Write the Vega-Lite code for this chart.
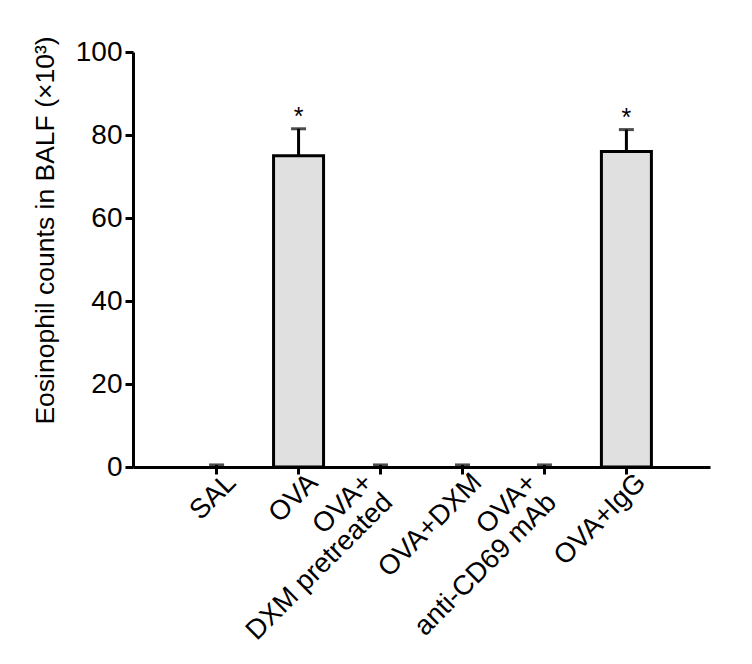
{
  "$schema": "https://vega.github.io/schema/vega-lite/v6.json",
  "autosize": {"type": "none"},
  "padding": {"left": 133, "top": 52, "right": 42, "bottom": 197},
  "width": 577,
  "height": 415,
  "background": "white",
  "config": {
    "view": {"stroke": null},
    "font": "Liberation Sans",
    "axis": {"domainColor": "black", "domainWidth": 3, "tickColor": "black", "tickWidth": 3, "labelColor": "black", "titleColor": "black", "grid": false, "labelFont": "Liberation Sans", "titleFont": "Liberation Sans", "labelLimit": 0}
  },
  "data": {
    "values": [
      {"group": "SAL", "mean": 0, "upper": 0.5, "sig": ""},
      {"group": "OVA", "mean": 75, "upper": 81.5, "sig": "*"},
      {"group": "OVA+\nDXM pretreated", "mean": 0, "upper": 0.5, "sig": ""},
      {"group": "OVA+DXM", "mean": 0, "upper": 0.5, "sig": ""},
      {"group": "OVA+\nanti-CD69 mAb", "mean": 0, "upper": 0.5, "sig": ""},
      {"group": "OVA+IgG", "mean": 76, "upper": 81.3, "sig": "*"}
    ]
  },
  "encoding": {
    "x": {
      "field": "group", "type": "nominal",
      "sort": ["SAL", "OVA", "OVA+\nDXM pretreated", "OVA+DXM", "OVA+\nanti-CD69 mAb", "OVA+IgG"],
      "scale": {"paddingInner": 0.39, "paddingOuter": 0.715},
      "axis": {"title": null, "labelAngle": -45, "labelFontSize": 27.5, "tickSize": 7, "labelPadding": 4, "labelLimit": 0,
        "labelExpr": "split(datum.label, '\\n')", "labelLineHeight": 28, "labelBaseline": "middle", "labelAlign": "right",
        "labelOffset": {"condition": {"test": "indexof(datum.value, '\\n') >= 0", "value": -12}, "value": 15}}
    }
  },
  "layer": [
    {
      "transform": [{"filter": "datum.mean > 0"}],
      "mark": {"type": "bar", "fill": "#e0e0e0", "stroke": "black", "strokeWidth": 3},
      "encoding": {
        "y": {"field": "mean", "type": "quantitative",
          "scale": {"domain": [0, 100], "nice": false},
          "axis": {"title": "Eosinophil counts in BALF (×10³)", "values": [0, 20, 40, 60, 80, 100], "labelFontSize": 28, "tickSize": 8, "labelPadding": 3, "titleFontSize": 26.5, "titleFontWeight": "normal", "titleAngle": -90, "titleX": -80, "titleY": 178, "titleAlign": "center", "titleBaseline": "alphabetic"}
        }
      }
    },
    {
      "mark": {"type": "rule", "color": "black", "strokeWidth": 3},
      "encoding": {"y": {"field": "mean", "type": "quantitative"}, "y2": {"field": "upper"}}
    },
    {
      "mark": {"type": "tick", "orient": "horizontal", "color": "black", "thickness": 3, "size": 15},
      "encoding": {"y": {"field": "upper", "type": "quantitative"}}
    },
    {
      "mark": {"type": "text", "fontSize": 25, "baseline": "alphabetic", "dy": -4, "color": "black"},
      "encoding": {"y": {"field": "upper", "type": "quantitative"}, "text": {"field": "sig"}}
    }
  ]
}
